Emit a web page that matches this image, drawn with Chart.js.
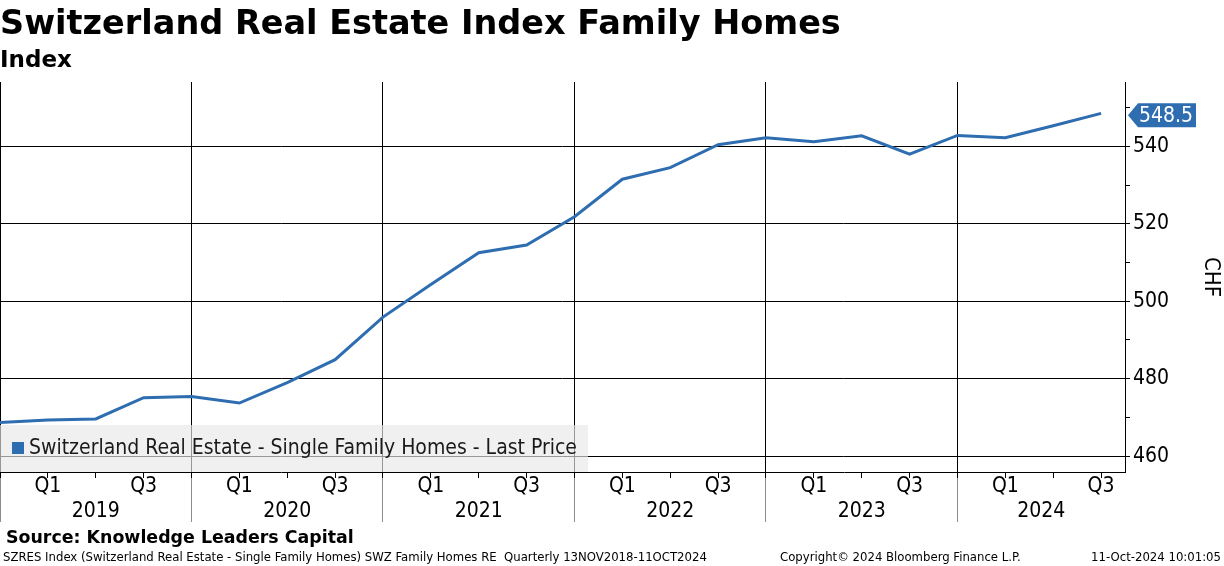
<!DOCTYPE html>
<html>
<head>
<meta charset="utf-8">
<script src="https://cdn.jsdelivr.net/npm/chart.js@4.4.1/dist/chart.umd.min.js"></script>
<style>
  html, body { margin: 0; padding: 0; background: #fff; }
  body { width: 1224px; height: 566px; overflow: hidden; position: relative;
         font-family: "DejaVu Sans Condensed", "DejaVu Sans", sans-serif; color: #000; }
  #wrap { position: absolute; left: 0; top: 0; width: 1224px; height: 566px; }
  .txt { position: absolute; white-space: nowrap; }
  #title { left: 0; top: 3px; font-family: "DejaVu Sans", sans-serif; font-size: 33.5px; font-weight: bold; }
  #sub { left: 0; top: 46px; font-family: "DejaVu Sans", sans-serif; font-size: 23px; font-weight: bold; }
  #legend { position: absolute; left: 0; top: 425px; width: 588px; height: 47px;
            background: rgba(232,232,232,0.65); }
  #legend span.sw { position: absolute; left: 12px; top: 17px; width: 12px; height: 12px; background: #2e6db0; }
  #legend span.lb { position: absolute; left: 29px; top: 10px; font-size: 21px; color: #1a1a1a; white-space: nowrap; }
  #source { left: 6px; top: 527px; font-family: "DejaVu Sans", sans-serif; font-size: 17.4px; font-weight: bold; }
  .foot { top: 549px; font-size: 13px; }
</style>
</head>
<body>
<div id="wrap"><canvas id="c" width="1224" height="566"></canvas></div>
<div class="txt" id="title">Switzerland Real Estate Index Family Homes</div>
<div class="txt" id="sub">Index</div>
<div id="legend"><span class="sw"></span><span class="lb">Switzerland Real Estate - Single Family Homes - Last Price</span></div>
<div class="txt" id="source">Source: Knowledge Leaders Capital</div>
<div class="txt foot" style="left:3px">SZRES Index (Switzerland Real Estate - Single Family Homes) SWZ Family Homes RE&nbsp; Quarterly 13NOV2018-11OCT2024</div>
<div class="txt foot" style="left:780px">Copyright© 2024 Bloomberg Finance L.P.</div>
<div class="txt foot" style="right:3px">11-Oct-2024 10:01:05</div>
<script>
(function(){

  // quarter-end points, 2018 Q4 .. 2024 Q3
  const quarters = ["2018Q4",
    "2019Q1","2019Q2","2019Q3","2019Q4",
    "2020Q1","2020Q2","2020Q3","2020Q4",
    "2021Q1","2021Q2","2021Q3","2021Q4",
    "2022Q1","2022Q2","2022Q3","2022Q4",
    "2023Q1","2023Q2","2023Q3","2023Q4",
    "2024Q1","2024Q2","2024Q3"];
  const values = [468.7,
    469.3, 469.6, 475.1, 475.4,
    473.7, 479.0, 484.9, 495.9,
    504.3, 512.5, 514.5, 521.8,
    531.5, 534.5, 540.4, 542.2,
    541.2, 542.7, 538.0, 542.8,
    542.2, 545.3, 548.5];
  const years = ["2019","2020","2021","2022","2023","2024"];
  const yTicks = [460, 480, 500, 520, 540];

  const FONT = '"DejaVu Sans Condensed", "DejaVu Sans", sans-serif';
  const BLUE = '#2e6db0';
  const X_MAX = 23.5;

  Chart.defaults.font.family = FONT;
  Chart.defaults.color = '#000';

  const points = values.map((v, i) => ({ x: i, y: v }));

  // year label position: centre of the visible part of each year
  function yearCentre(k) {
    const a = k * 4, b = Math.min(a + 4, X_MAX);
    return (a + b) / 2;
  }

  const lastTag = {
    id: 'lastTag',
    afterDraw(chart) {
      const ctx = chart.ctx;
      const ys = chart.scales.y;
      const v = values[values.length - 1];
      const y = ys.getPixelForValue(v) + 2;
      const x = chart.chartArea.right + 3;
      ctx.save();
      ctx.beginPath();
      ctx.moveTo(x, y);
      ctx.lineTo(x + 10, y - 12);
      ctx.lineTo(x + 68, y - 12);
      ctx.lineTo(x + 68, y + 12);
      ctx.lineTo(x + 10, y + 12);
      ctx.closePath();
      ctx.fillStyle = BLUE;
      ctx.fill();
      ctx.fillStyle = '#fff';
      ctx.font = '21px ' + FONT;
      ctx.textBaseline = 'middle';
      ctx.textAlign = 'left';
      ctx.fillText(v.toFixed(1), x + 11, y + 1);
      ctx.restore();
    }
  };

  new Chart(document.getElementById('c'), {
    type: 'line',
    data: {
      datasets: [{
        label: 'Switzerland Real Estate - Single Family Homes - Last Price',
        data: points,
        borderColor: BLUE,
        borderWidth: 3,
        pointRadius: 0,
        tension: 0,
        fill: false
      }]
    },
    options: {
      responsive: false,
      animation: false,
      layout: { padding: { top: 82, left: 0, right: 0, bottom: 0 } },
      plugins: { legend: { display: false }, tooltip: { enabled: false } },
      scales: {
        x2: {
          type: 'linear', position: 'bottom', weight: 0,
          min: 0, max: X_MAX,
          afterBuildTicks(s) { s.ticks = years.map((y, k) => ({ value: k * 4 })); },
          afterFit(s) { s.height = 0; },
          ticks: { display: false },
          grid: { color: '#000', lineWidth: 1, drawOnChartArea: true, tickLength: 50, tickColor: '#8c8c8c' },
          border: { display: false }
        },
        x: {
          type: 'linear', position: 'bottom', weight: 1,
          min: 0, max: X_MAX,
          afterBuildTicks(s) {
            const t = quarters.map((q, i) => ({ value: i }));
            years.forEach((y, k) => {
              const c = yearCentre(k);
              if (c % 1) t.push({ value: c });
            });
            t.sort((a, b) => a.value - b.value);
            s.ticks = t;
          },
          afterFit(s) { s.height = 94; },
          ticks: {
            autoSkip: false, maxRotation: 0, minRotation: 0, padding: -4,
            font: { size: 21, lineHeight: 1.2 },
            callback(v) {
              const k = years.findIndex((y, j) => Math.abs(yearCentre(j) - v) < 1e-6);
              if (k >= 0) return ['', years[k]];
              if (v % 1) return '';
              const q = ((v - 1) % 4 + 4) % 4;
              if (q === 0) return 'Q1';
              if (q === 2) return 'Q3';
              return '';
            }
          },
          grid: {
            drawOnChartArea: false, tickLength: 6,
            tickColor: (c) => (c.tick && c.tick.value % 1 === 0) ? '#000' : 'rgba(0,0,0,0)'
          },
          border: { display: true, color: '#000', width: 1 }
        },
        y: {
          type: 'linear', position: 'right',
          min: 455.9, max: 556.6,
          afterBuildTicks(s) {
            const t = [];
            for (let v = 460; v <= 550; v += 10) t.push({ value: v });
            s.ticks = t;
          },
          afterFit(s) { s.width = 99; },
          ticks: {
            padding: 3, font: { size: 21 },
            callback: (v) => yTicks.includes(v) ? String(v) : ''
          },
          grid: {
            lineWidth: 1, tickLength: 5, tickColor: '#000',
            color: (c) => (c.tick && yTicks.includes(c.tick.value)) ? '#000' : 'rgba(0,0,0,0)'
          },
          border: { display: true, color: '#000', width: 1 },
          title: { display: true, text: 'CHF', font: { size: 22 }, padding: { top: 0, bottom: 3 } }
        }
      }
    },
    plugins: [lastTag]
  });

})();
</script>
</body>
</html>
